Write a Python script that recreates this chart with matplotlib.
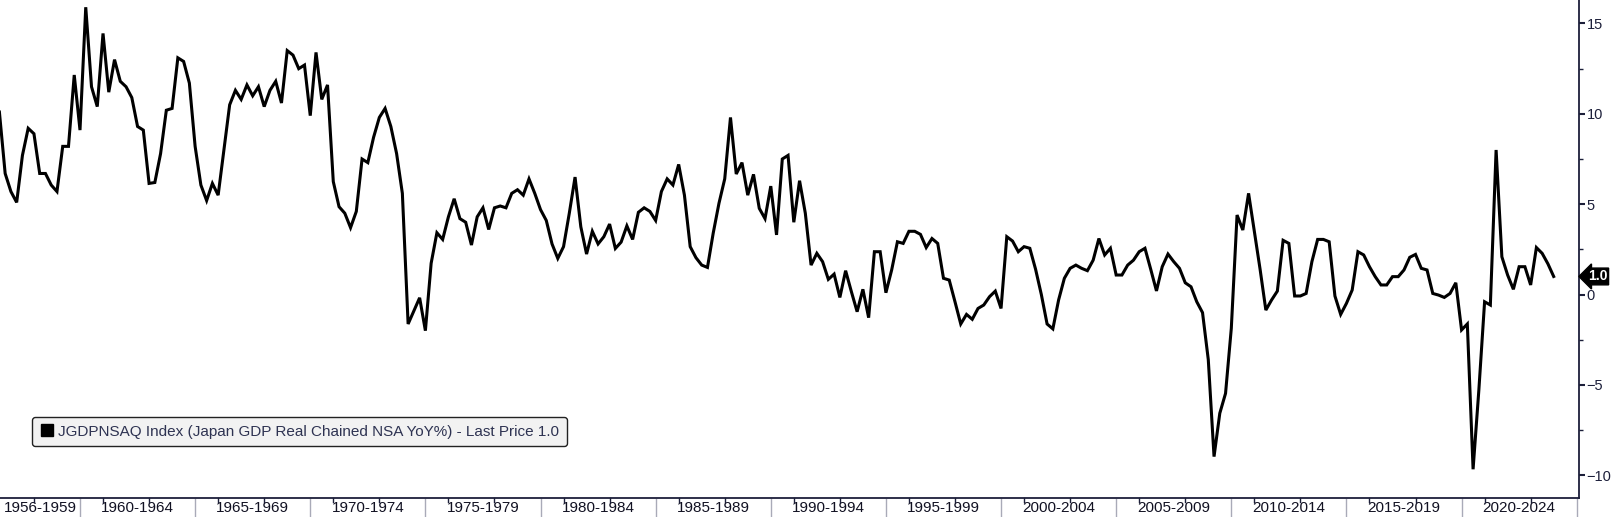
import pandas as pd
import matplotlib.pyplot as plt
import matplotlib.transforms as mtransforms
from matplotlib.lines import Line2D

# Japan real GDP, chained, NSA, YoY % (quarterly, from 1956 Q2)
start_quarter = '1956Q2'
gdp_yoy = [
    10.1, 6.7, 5.7, 5.1, 7.7, 9.2, 8.9, 6.7, 6.7, 6.06,
    5.7, 8.2, 8.2, 12.15, 9.1, 15.9, 11.5, 10.4, 14.45, 11.2,
    13.0, 11.8, 11.5, 10.9, 9.3, 9.1, 6.15, 6.2, 7.8, 10.2,
    10.3, 13.1, 12.9, 11.7, 8.2, 6.06, 5.2, 6.15, 5.5, 8.0,
    10.5, 11.3, 10.8, 11.6, 11.0, 11.5, 10.4, 11.3, 11.8, 10.6,
    13.5, 13.25, 12.5, 12.7, 9.9, 13.4, 10.8, 11.6, 6.25, 4.86,
    4.5, 3.7, 4.6, 7.5, 7.3, 8.7, 9.8, 10.3, 9.3, 7.8,
    5.6, -1.63, -0.9, -0.18, -2.0, 1.73, 3.42, 3.05, 4.3, 5.3,
    4.2, 4.0, 2.74, 4.3, 4.8, 3.6, 4.8, 4.9, 4.8, 5.6,
    5.8, 5.5, 6.4, 5.6, 4.7, 4.1, 2.8, 2.0, 2.65, 4.5,
    6.5, 3.75, 2.24, 3.5, 2.8, 3.2, 3.9, 2.55, 2.9, 3.8,
    3.05, 4.55, 4.8, 4.6, 4.1, 5.7, 6.4, 6.06, 7.2, 5.5,
    2.65, 2.04, 1.63, 1.5, 3.4, 5.05, 6.4, 9.8, 6.67, 7.3,
    5.5, 6.65, 4.77, 4.2, 6.0, 3.3, 7.5, 7.7, 4.0, 6.3,
    4.5, 1.63, 2.28, 1.82, 0.84, 1.13, -0.16, 1.32, 0.16, -0.95,
    0.29, -1.28, 2.37, 2.37, 0.1, 1.36, 2.92, 2.83, 3.5, 3.5,
    3.33, 2.6, 3.1, 2.83, 0.9, 0.8, -0.4, -1.63, -1.1, -1.37,
    -0.77, -0.58, -0.12, 0.19, -0.77, 3.2, 2.96, 2.37, 2.65, 2.56,
    1.4, 0.0, -1.63, -1.9, -0.3, 0.9, 1.45, 1.63, 1.45, 1.32,
    1.9, 3.1, 2.19, 2.56, 1.08, 1.08, 1.63, 1.9, 2.37, 2.56,
    1.4, 0.2, 1.54, 2.24, 1.82, 1.45, 0.65, 0.43, -0.4, -1.0,
    -3.6, -8.97, -6.57, -5.47, -1.87, 4.4, 3.57, 5.6, 3.5, 1.4,
    -0.86, -0.3, 0.19, 3.0, 2.83, -0.08, -0.08, 0.06, 1.82, 3.05,
    3.05, 2.92, -0.08, -1.1, -0.49, 0.25, 2.37, 2.19, 1.54, 0.99,
    0.53, 0.53, 0.99, 0.99, 1.36, 2.06, 2.22, 1.45, 1.36, 0.06,
    -0.03, -0.16, 0.06, 0.65, -1.96, -1.63, -9.67, -5.3, -0.4, -0.58,
    8.0, 2.09, 1.08, 0.29, 1.54, 1.54, 0.53, 2.6, 2.28, 1.7, 1.0,
]

period_labels = ['1956-1959', '1960-1964', '1965-1969', '1970-1974', '1975-1979',
                 '1980-1984', '1985-1989', '1990-1994', '1995-1999', '2000-2004',
                 '2005-2009', '2010-2014', '2015-2019', '2020-2024']
period_edges = [1960, 1965, 1970, 1975, 1980, 1985, 1990, 1995, 2000, 2005,
                2010, 2015, 2020, 2025]
y_ticks = [-10, -5, 0, 5, 10, 15]
last_price = 1.0
legend_text = 'JGDPNSAQ Index (Japan GDP Real Chained NSA YoY%) - Last Price 1.0'

plt.rcParams['font.family'] = ['Liberation Sans', 'DejaVu Sans']

# quarter-end dates as decimal years
q = pd.period_range(start_quarter, periods=len(gdp_yoy), freq='Q')
x = q.year + q.quarter / 4.0

navy = '#1c1f3a'
fig = plt.figure(figsize=(16.12, 5.17), dpi=100)
ax = fig.add_axes([0, 19 / 517, 1579 / 1612, 498 / 517])

ax.plot(x, gdp_yoy, color='black', lw=2.2, solid_joinstyle='miter')

ax.set_xlim(1956.526, 2025.10)
ax.set_ylim(-11.26, 16.30)

for s in ['top', 'left']:
    ax.spines[s].set_visible(False)
ax.spines['right'].set_color(navy)
ax.spines['bottom'].set_color(navy)
ax.spines['right'].set_linewidth(1.3)
ax.spines['bottom'].set_linewidth(1.3)

# y axis on right
ax.yaxis.tick_right()
ax.set_yticks(y_ticks)
ax.set_yticks([-7.5, -2.5, 2.5, 7.5, 12.5], minor=True)
ax.tick_params(axis='y', which='major', direction='out', length=4, width=1.5,
               color=navy, labelcolor=navy, labelsize=10.5, pad=1.5)
ax.tick_params(axis='y', which='minor', direction='out', length=3, width=1.0, color=navy)

# x axis: period separators + centred labels
ax.set_xticks(period_edges)
ax.set_xticklabels([])
ax.tick_params(axis='x', which='major', direction='out', length=14, width=1.0,
               color='#a9aab8')
centers = [(1956.526 + period_edges[0]) / 2] + [e + 2.5 for e in period_edges[:-1]]
ax.set_xticks(centers, minor=True)
ax.set_xticklabels(period_labels, minor=True)
ax.tick_params(axis='x', which='minor', length=0, pad=2.5, labelsize=11, labelcolor='#111122')

# small year ticks along the bottom axis
trans = mtransforms.blended_transform_factory(ax.transData, ax.transAxes)
for e in [1955] + period_edges[:-1]:
    for yr in (e + 1, e + 3):
        if yr > 1956.6:
            ax.plot([yr, yr], [0, -0.008], transform=trans, color=navy, lw=1.0, clip_on=False)

# last price tag
ytrans = mtransforms.blended_transform_factory(ax.transAxes, ax.transData)
ax.text(1.0055, last_price, '1.0', transform=ytrans, ha='left', va='center',
        color='white', fontsize=10, fontweight='bold',
        bbox=dict(boxstyle='larrow,pad=0.1', fc='black', ec='black'))

handle = Line2D([], [], marker='s', color='black', linestyle='None', markersize=8)
leg = ax.legend([handle], [legend_text], loc='lower left', bbox_to_anchor=(0.0203, 0.104),
                borderaxespad=0, fontsize=11, frameon=True, fancybox=True,
                handletextpad=0.2, handlelength=1.0, borderpad=0.5)
leg.get_frame().set_facecolor('#f2f2f2')
leg.get_frame().set_edgecolor('#222222')
leg.get_frame().set_alpha(1)
for t in leg.get_texts():
    t.set_color('#2e3352')

plt.savefig('out.png', dpi=100)
